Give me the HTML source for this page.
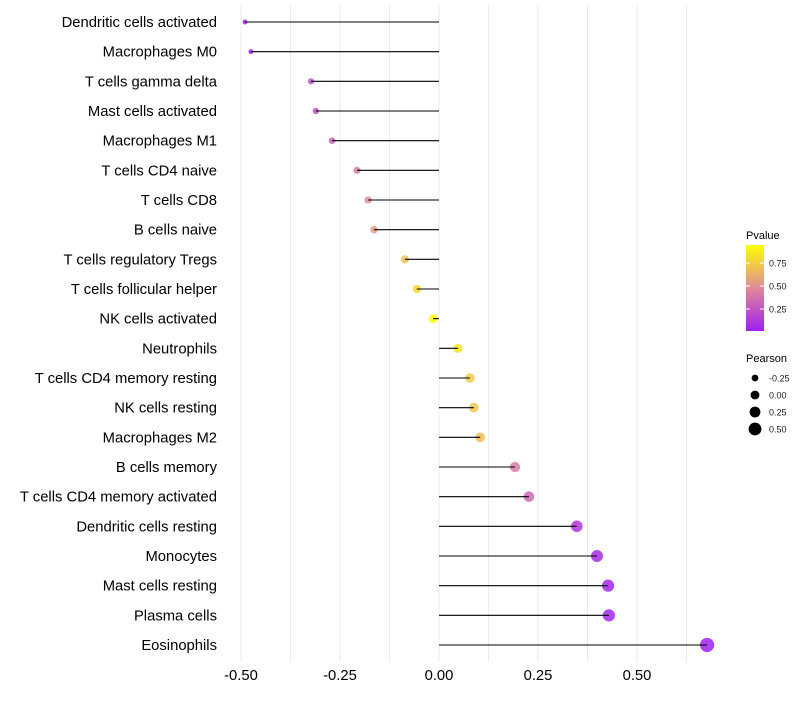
<!DOCTYPE html>
<html><head><meta charset="utf-8"><style>
body{margin:0;background:#fff;font-family:"Liberation Sans",sans-serif}
svg text{font-family:"Liberation Sans",sans-serif}
</style></head><body>
<svg id="chart" width="800" height="700">
<defs><linearGradient id="pg" x1="0" y1="1" x2="0" y2="0">
<stop offset="0" stop-color="#a020f0"/><stop offset="0.5" stop-color="#e08a9a"/><stop offset="1" stop-color="#ffff00"/></linearGradient></defs>
<g id="grid"></g>
<g id="points"></g>
<g id="marks"></g>
<g id="ylabels"></g>
<g id="xlabels"></g>
<g>
<text x="746" y="239" font-size="11" fill="#000">Pvalue</text>
<rect x="746" y="245" width="18" height="86" fill="url(#pg)"/>
<g id="cbticks"></g>
</g>
<g id="sizeleg">
<text x="746" y="362" font-size="11" fill="#000">Pearson</text>
</g>
</svg>
<script>
const categories=["Dendritic cells activated","Macrophages M0","T cells gamma delta","Mast cells activated","Macrophages M1","T cells CD4 naive","T cells CD8","B cells naive","T cells regulatory  Tregs ","T cells follicular helper","NK cells activated","Neutrophils","T cells CD4 memory resting","NK cells resting","Macrophages M2","B cells memory","T cells CD4 memory activated","Dendritic cells resting","Monocytes","Mast cells resting","Plasma cells","Eosinophils"];
const pearson=[-0.49,-0.475,-0.323,-0.311,-0.27,-0.207,-0.179,-0.164,-0.086,-0.056,-0.015,0.048,0.078,0.088,0.104,0.192,0.227,0.348,0.399,0.427,0.429,0.677];
const pvalue=[0.02,0.03,0.2,0.22,0.3,0.42,0.5,0.55,0.7,0.8,0.97,0.85,0.74,0.72,0.68,0.42,0.33,0.1,0.06,0.03,0.03,0.0];
const xTicks=[-0.5,-0.25,0,0.25,0.5];
const xTickLabels=["-0.50","-0.25","0.00","0.25","0.50"];
const legendP=[0.25,0.5,0.75];
const legendSizes=[-0.25,0,0.25,0.5];
const legendSizeLabels=["-0.25","0.00","0.25","0.50"];
const NS="http://www.w3.org/2000/svg";
const x=v=>439+v*396;
const y=i=>22+i*(623/(categories.length-1));
const r=v=>Math.max(1.5,4.4+4*v);
function lerp(a,b,t){return a.map((c,i)=>Math.round(c+(b[i]-c)*t));}
function col(p){const t=Math.min(1,p/0.95);const A=[160,32,240],M=[224,138,154],B=[255,255,0];
const c=t<0.5?lerp(A,M,t/0.5):lerp(M,B,(t-0.5)/0.5);return `rgb(${c})`;}
function mk(tag,at,parent){const e=document.createElementNS(NS,tag);for(const k in at)e.setAttribute(k,at[k]);parent.appendChild(e);return e;}
const grid=document.getElementById('grid');
for(let v=-0.5;v<=0.626;v+=0.125){const l=mk('line',{x1:x(v),x2:x(v),y1:5,y2:662,stroke:'#ebebeb','stroke-width':1},grid);
}
const marks=document.getElementById('marks'),pts=document.getElementById('points'),yl=document.getElementById('ylabels'),xl=document.getElementById('xlabels');
categories.forEach((c,i)=>{
const p=mk('circle',{cx:x(pearson[i]),cy:y(i),r:r(pearson[i]),fill:col(pvalue[i]),'fill-opacity':0.85},pts);

const s=mk('line',{x1:x(0),x2:x(pearson[i]),y1:y(i),y2:y(i),stroke:'#000','stroke-width':1.1},marks);

const t=mk('text',{x:217,y:y(i)+5,'text-anchor':'end','font-size':14.8,fill:'#000'},yl);t.textContent=c;

});
xTicks.forEach((v,i)=>{const t=mk('text',{x:x(v),y:680,'text-anchor':'middle','font-size':14.8,fill:'#000'},xl);t.textContent=xTickLabels[i];
});
const cb=document.getElementById('cbticks');
legendP.forEach(p=>{const yy=332-p*92;
const l=mk('line',{x1:746,x2:750,y1:yy,y2:yy,stroke:'#fff'},cb);
const l2=mk('line',{x1:760,x2:764,y1:yy,y2:yy,stroke:'#fff'},cb);
const t=mk('text',{x:769,y:yy+3.5,'font-size':9,fill:'#1a1a1a'},cb);t.textContent=p.toFixed(2);
});
const sl=document.getElementById('sizeleg');
legendSizes.forEach((v,i)=>{const yy=378+i*17;
const c=mk('circle',{cx:755,cy:yy,r:r(v)},sl);
const t=mk('text',{x:769,y:yy+3.5,'font-size':9,fill:'#1a1a1a'},sl);t.textContent=legendSizeLabels[i];
});
</script>
</body></html>
